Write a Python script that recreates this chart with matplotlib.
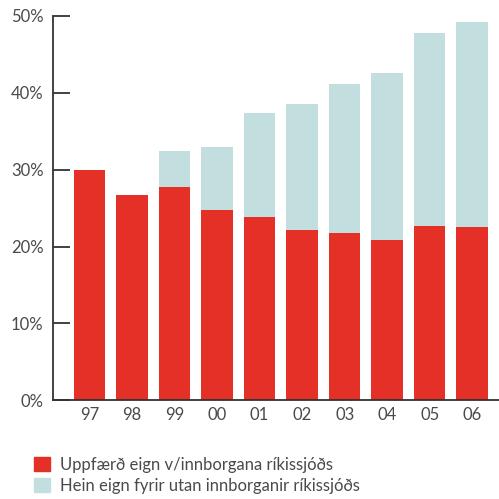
import matplotlib.pyplot as plt
from matplotlib.patches import Patch

# Share of assets, percent
years = ["97", "98", "99", "00", "01", "02", "03", "04", "05", "06"]
updated = [30.0, 26.7, 27.7, 24.8, 23.8, 22.2, 21.8, 20.9, 22.7, 22.6]
total = [30.0, 26.7, 32.4, 32.9, 37.4, 38.5, 41.1, 42.6, 47.8, 49.2]
other = [t - u for t, u in zip(total, updated)]

labels = ["Uppfærð eign v/innborgana ríkissjóðs",
          "Hein eign fyrir utan innborganir ríkissjóðs"]
red = "#e53027"
teal = "#c3dede"
grey = "#4a4a4a"

plt.rcParams["font.family"] = ["Lato", "DejaVu Sans"]

fig = plt.figure(figsize=(4.99, 4.99), dpi=100)
ax = fig.add_axes([0.107, 0.198, 0.893, 0.770])

x = range(len(years))
ax.bar(x, updated, width=0.74, color=red)
ax.bar(x, other, width=0.74, bottom=updated, color=teal)

ax.set_xlim(-0.85, 9.63)
ax.set_ylim(0, 50)
ax.set_yticks(range(0, 51, 10))
ax.set_yticklabels([f"{v}%" for v in range(0, 51, 10)])
ax.set_xticks(list(x))
ax.set_xticklabels(years)

for side in ["top", "right"]:
    ax.spines[side].set_visible(False)
for side in ["left", "bottom"]:
    ax.spines[side].set_color("#333333")
    ax.spines[side].set_linewidth(1.3)

ax.tick_params(axis="y", direction="in", length=12, width=1.3,
               color="#333333", pad=7, labelsize=12, labelcolor=grey)
ax.tick_params(axis="x", length=0, pad=5, labelsize=12, labelcolor=grey)

handles = [Patch(color=red), Patch(color=teal)]
fig.legend(handles, labels, loc="upper left", bbox_to_anchor=(0.068, 0.085),
           frameon=False, handlelength=0.95, handleheight=0.95,
           handletextpad=0.6, labelspacing=0.3, fontsize=12,
           labelcolor=grey, borderpad=0, borderaxespad=0)

fig.savefig("out.png", dpi=100)
